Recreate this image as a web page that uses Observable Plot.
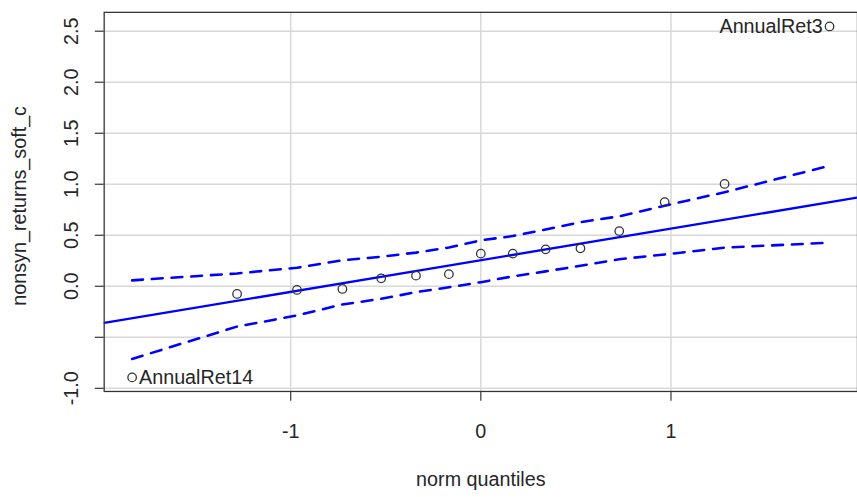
<!DOCTYPE html>
<html>
<head>
<meta charset="utf-8">
<script src="https://cdn.jsdelivr.net/npm/d3@7"></script>
<script src="https://cdn.jsdelivr.net/npm/@observablehq/plot@0.6"></script>
<style>
  html, body { margin: 0; padding: 0; background: #fff; overflow: hidden; width: 857px; height: 497px; }
  #chart svg { display: block; }
</style>
</head>
<body>
<div id="chart"></div>
<script>
// Theoretical normal quantiles (x) and sorted sample values (y)
const quantiles = [-1.834, -1.282, -0.967, -0.728, -0.524, -0.341, -0.168, 0, 0.168, 0.341, 0.524, 0.728, 0.967, 1.282, 1.834];
const returns   = [-0.893, -0.075, -0.036, -0.026, 0.078, 0.104, 0.119, 0.320, 0.320, 0.362, 0.372, 0.541, 0.825, 1.003, 2.547];
// Confidence envelope read at each quantile
const envUpper  = [0.058, 0.126, 0.182, 0.255, 0.290, 0.330, 0.380, 0.450, 0.492, 0.557, 0.628, 0.686, 0.790, 0.922, 1.181];
const envLower  = [-0.712, -0.395, -0.286, -0.178, -0.123, -0.058, -0.010, 0.040, 0.097, 0.146, 0.201, 0.265, 0.312, 0.379, 0.427];
// Reference line
const lineIntercept = 0.255;
const lineSlope = 0.31;
// Labelled observations
const labelIndex = [0, 14];
const labelNames = ["AnnualRet14", "AnnualRet3"];
// Axes
const xTicks = [-1, 0, 1];
const yTicks = [-1.0, -0.5, 0.0, 0.5, 1.0, 1.5, 2.0, 2.5];
const yTickLabels = ["-1.0", "0.0", "0.5", "1.0", "1.5", "2.0", "2.5"];
const xLabel = "norm quantiles";
const yLabel = "nonsyn_returns_soft_c";

const xDomain = [-1.981, 1.981];
const yDomain = [-1.031, 2.685];

const pts = quantiles.map((q, i) => ({q, v: returns[i]}));
const env = quantiles.map((q, i) => ({q, hi: envUpper[i], lo: envLower[i]}));
const refLine = xDomain.map(q => ({q, v: lineIntercept + lineSlope * q}));
const labels = labelIndex.map((idx, k) => ({q: quantiles[idx], v: returns[idx], name: labelNames[k], side: k === 0 ? "start" : "end"}));
const yLab = yTickLabels.map(s => ({v: +s, s}));

const font = "'Liberation Sans', Arial, Helvetica, sans-serif";
const fs = 20;
const txt = "#262626";
const blue = "#0000ff";

const chart = Plot.plot({
  width: 868,
  height: 497,
  marginLeft: 105,
  marginRight: 0,
  marginTop: 12,
  marginBottom: 101,
  style: {fontFamily: font, fontSize: fs + "px", background: "#fff"},
  x: {domain: xDomain, axis: null},
  y: {domain: yDomain, axis: null},
  marks: [
    Plot.gridX(xTicks, {stroke: "#d8d8d8", strokeOpacity: 1, strokeWidth: 1.5}),
    Plot.gridY(yTicks, {stroke: "#d8d8d8", strokeOpacity: 1, strokeWidth: 1.5}),
    Plot.axisY(yTicks, {anchor: "left", tickSize: 9, fill: "none", stroke: "#333", strokeWidth: 1.2}),
    Plot.axisX(xTicks, {anchor: "bottom", tickSize: 10, fill: "none", stroke: "#333", strokeWidth: 1.2}),
    Plot.text(yLab, {y: "v", text: "s", frameAnchor: "left", dx: -33, rotate: -90, textAnchor: "middle", lineAnchor: "middle", fill: txt, fontSize: fs}),
    Plot.text(xTicks, {x: d => d, text: d => String(d), frameAnchor: "bottom", dy: 41, lineAnchor: "middle", fill: txt, fontSize: fs}),
    Plot.text([xLabel], {text: d => d, frameAnchor: "bottom", dy: 89, lineAnchor: "middle", fill: txt, fontSize: fs}),
    Plot.text([yLabel], {text: d => d, frameAnchor: "left", dx: -86, dy: 4, rotate: -90, textAnchor: "middle", lineAnchor: "middle", fill: txt, fontSize: fs}),
    Plot.line(refLine, {x: "q", y: "v", stroke: blue, strokeWidth: 2.3, clip: true}),
    Plot.line(env, {x: "q", y: "hi", stroke: blue, strokeWidth: 2.6, strokeDasharray: "11,9"}),
    Plot.line(env, {x: "q", y: "lo", stroke: blue, strokeWidth: 2.6, strokeDasharray: "11,9"}),
    Plot.dot(pts, {x: "q", y: "v", r: 4.3, stroke: "#333", strokeWidth: 1.3, fill: "none"}),
    Plot.text(labels.filter(d => d.side === "start"), {x: "q", y: "v", text: "name", textAnchor: "start", dx: 7, lineAnchor: "middle", fill: txt, fontSize: fs}),
    Plot.text(labels.filter(d => d.side === "end"), {x: "q", y: "v", text: "name", textAnchor: "end", dx: -7, lineAnchor: "middle", fill: txt, fontSize: fs}),
    Plot.frame({stroke: "#333", strokeWidth: 1.3})
  ]
});
document.getElementById("chart").appendChild(chart);
</script>
</body>
</html>
